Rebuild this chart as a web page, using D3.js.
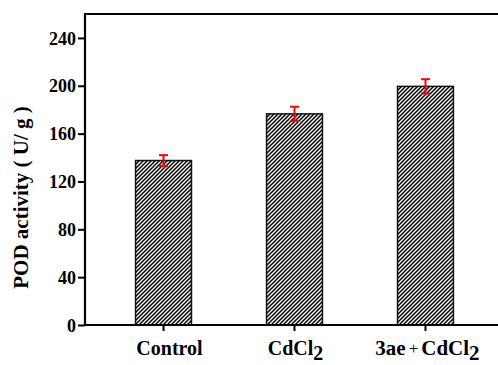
<!DOCTYPE html>
<html>
<head>
<meta charset="utf-8">
<script src="https://cdn.jsdelivr.net/npm/d3@7"></script>
<style>
  body{margin:0;background:#fff;}
  svg{display:block;}
  text{font-family:"Liberation Serif","Tinos","Times New Roman","DejaVu Serif",serif;font-weight:bold;fill:#000;}
</style>
</head>
<body>
<div id="chart"></div>
<script>
"use strict"

// data
const categories=["Control","CdCl2","3ae+CdCl2"];
const values=[137.5,176.5,199.5];
const errors=[4.5,6,6];
const yTicks=[0,40,80,120,160,200,240];

const W=498,H=365;
const margin={left:85,top:14,right:-6,bottom:40};
const x0=margin.left, x1=W-margin.right;
const y0=H-margin.bottom, y1=margin.top;

const svg=d3.select("#chart").append("svg")
  .attr("width",W).attr("height",H);

// hatch fill
const defs=svg.append("defs");
defs.append("pattern")
  .attr("id","hatch")
  .attr("patternUnits","userSpaceOnUse")
  .attr("width",4).attr("height",4)
  .append("path")
  .attr("d","M-1,1 l2,-2 M0,4 l4,-4 M3,5 l2,-2")
  .attr("stroke","#000").attr("stroke-width",1.5);

const x=d3.scaleBand()
  .domain(categories)
  .range([x0,x1])
  .paddingInner(0.573)
  .paddingOuter(0.386);

const y=d3.scaleLinear().domain([0,260]).range([y0,y1]);

//bars
svg.selectAll(".bar")
  .data(categories)
  .enter()
  .append("rect")
  .attr("class","bar")
  .attr("x",d=>x(d))
  .attr("width",x.bandwidth())
  .attr("y",(d,i)=>y(values[i]))
  .attr("height",(d,i)=>y(0)-y(values[i]))
  .attr("fill","url(#hatch)")
  .attr("stroke","#111")
  .attr("stroke-width",1.5);

//error bars
const err=svg.append("g").attr("stroke","#ff0000").attr("stroke-width",2);
categories.forEach(function(c,i){
  const cx=x(c)+x.bandwidth()/2;
  const top=y(values[i]+errors[i]), bot=y(values[i]-errors[i]);
  err.append("line").attr("x1",cx).attr("x2",cx).attr("y1",top).attr("y2",bot);
  err.append("line").attr("x1",cx-4.5).attr("x2",cx+4.5).attr("y1",top).attr("y2",top);
  err.append("line").attr("x1",cx-4.5).attr("x2",cx+4.5).attr("y1",bot).attr("y2",bot);
});

//y axis
const yAxis=svg.append("g")
  .attr("transform",`translate(${x0},0)`)
  .call(d3.axisLeft(y).tickValues(yTicks).tickSize(7).tickPadding(2));
yAxis.attr("font-family",null);
yAxis.select(".domain").remove();
yAxis.selectAll(".tick line").attr("stroke","#000").attr("stroke-width",2);
yAxis.selectAll(".tick text").style("font-size","18px").attr("dy","0.34em");

//x axis
const xAxis=svg.append("g")
  .attr("transform",`translate(0,${y0})`)
  .call(d3.axisBottom(x).tickSize(6).tickFormat(""));
xAxis.select(".domain").remove();
xAxis.selectAll(".tick line").attr("stroke","#000").attr("stroke-width",2);

// frame
const frame=svg.append("g").attr("stroke","#000").attr("stroke-width",2.2).attr("fill","none");
frame.append("path").attr("d",`M${x1},${y1}H${x0}V${y0}H${x1}`);

// category labels with subscripts
function cx(c){return x(c)+x.bandwidth()/2;}
const lab=svg.append("g").style("font-size","20px");
lab.append("text").attr("x",cx("Control")+6).attr("y",355).attr("text-anchor","middle").text("Control");

const t2=lab.append("text").attr("x",cx("CdCl2")+1).attr("y",355).attr("text-anchor","middle");
t2.append("tspan").text("CdCl");
t2.append("tspan").attr("dy",5).text("2");

const t3=lab.append("text").attr("x",cx("3ae+CdCl2")+2).attr("y",355).attr("text-anchor","middle").style("font-size","21px");
t3.append("tspan").text("3ae");
t3.append("tspan").style("font-weight","normal").style("font-size","17px").attr("dx",3).attr("dy",-1).text("+");
t3.append("tspan").attr("dx",3).attr("dy",1).text("CdCl");
t3.append("tspan").attr("dy",5).text("2");

// y title
svg.append("text")
  .attr("transform",`translate(28,${(y0+y1)/2+28}) rotate(-90)`)
  .attr("text-anchor","middle")
  .style("font-size","21px")
  .text("POD activity ( U/ g )");
</script>
</body>
</html>
